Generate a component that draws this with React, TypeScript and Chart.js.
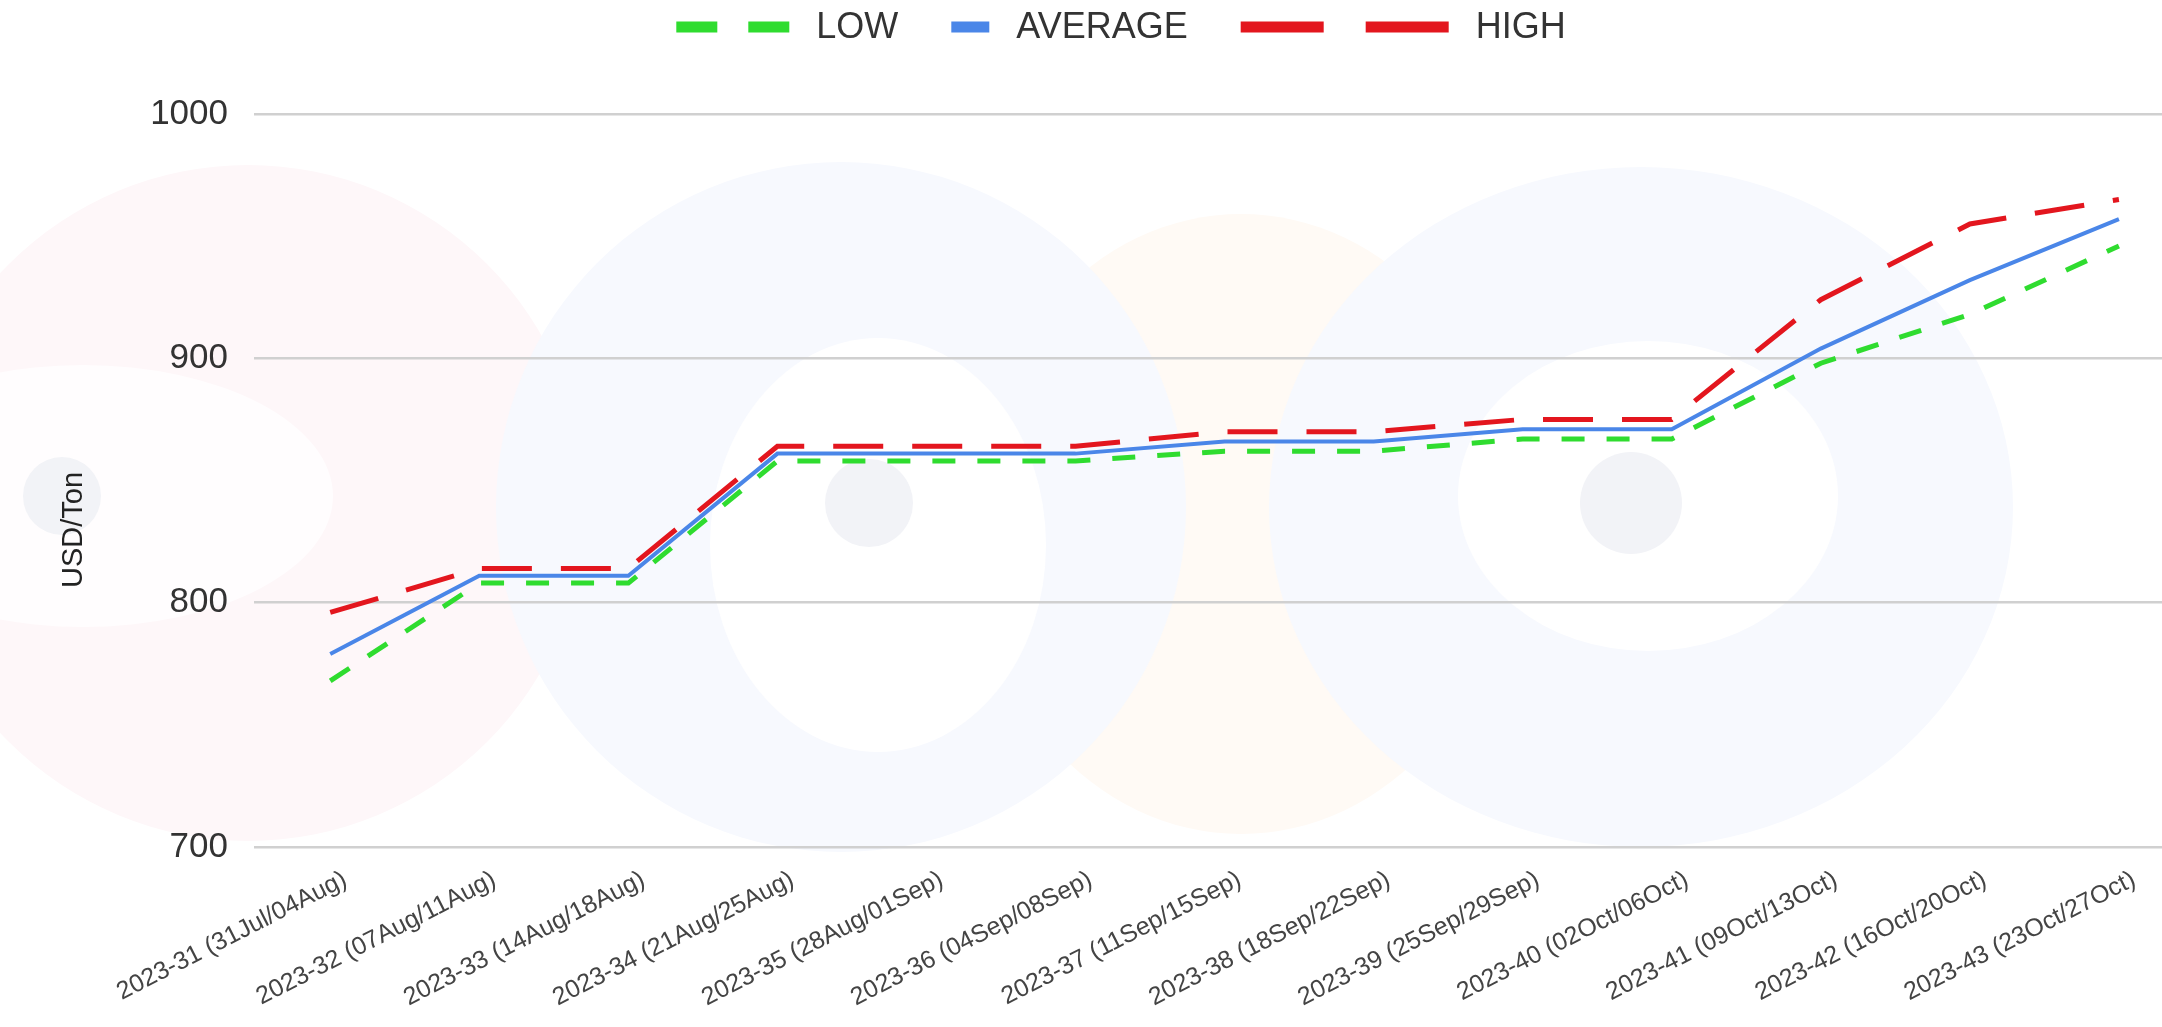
import { useEffect, useRef } from "react";
import { Chart, registerables } from "chart.js";

Chart.register(...registerables);

// ---- data ----
const weekLabels: string[] = [
  "2023-31 (31Jul/04Aug)",
  "2023-32 (07Aug/11Aug)",
  "2023-33 (14Aug/18Aug)",
  "2023-34 (21Aug/25Aug)",
  "2023-35 (28Aug/01Sep)",
  "2023-36 (04Sep/08Sep)",
  "2023-37 (11Sep/15Sep)",
  "2023-38 (18Sep/22Sep)",
  "2023-39 (25Sep/29Sep)",
  "2023-40 (02Oct/06Oct)",
  "2023-41 (09Oct/13Oct)",
  "2023-42 (16Oct/20Oct)",
  "2023-43 (23Oct/27Oct)",
];
const lowValues: number[] = [768, 808, 808, 858, 858, 858, 862, 862, 867, 867, 898, 918, 946];
const averageValues: number[] = [779, 811, 811, 861, 861, 861, 866, 866, 871, 871, 904, 932, 957];
const highValues: number[] = [796, 814, 814, 864, 864, 864, 870, 870, 875, 875, 924, 955, 965];
const yTickValues: number[] = [700, 800, 900, 1000];
const seriesNames: string[] = ["LOW", "AVERAGE", "HIGH"];
const yAxisTitle = "USD/Ton";

const LOW_COLOR = "#2fdc2f";
const AVG_COLOR = "#4a86e8";
const HIGH_COLOR = "#e3161e";
const FONT = '"Liberation Sans", Arial, Helvetica, sans-serif';

// legend symbols: dash patterns drawn in the custom legend
const legendSymbols = [
  { width: 113, dash: [41, 31] },
  { width: 38, dash: [] as number[] },
  { width: 208, dash: [83, 42] },
];

// faint watermark behind the plot
const watermark = {
  id: "watermark",
  beforeDraw(chart: any) {
    const ctx: CanvasRenderingContext2D = chart.ctx;
    ctx.save();
    const ell = (cx: number, cy: number, rx: number, ry: number, color: string) => {
      ctx.fillStyle = color;
      ctx.beginPath();
      ctx.ellipse(cx, cy, rx, ry, 0, 0, Math.PI * 2);
      ctx.fill();
    };
    ell(1241, 524, 270, 310, "#fffaf5");
    ell(248, 503, 338, 338, "#fef7f9");
    ell(83, 496, 250, 131, "#fffdfe");
    ell(841, 507, 345, 345, "#f7f9fe");
    ell(878, 545, 168, 207, "#ffffff");
    ell(1641, 507, 372, 340, "#f7f9fe");
    ell(1648, 496, 190, 155, "#ffffff");
    ell(62, 496, 39, 39, "#f2f3f7");
    ell(869, 503, 44, 44, "#f2f3f7");
    ell(1631, 503, 51, 51, "#f2f3f7");
    ctx.restore();
  },
};

const dashLegend = {
  id: "dashLegend",
  afterDraw(chart: any) {
    const ctx: CanvasRenderingContext2D = chart.ctx;
    const datasets = chart.data.datasets;
    const fontSize = 36;
    const symGap = 27;
    const itemGap = 53;
    const cy = 27;
    ctx.save();
    ctx.font = `${fontSize}px ${FONT}`;
    const items = legendSymbols.map((s, i) => ({
      ...s,
      text: datasets[i].label as string,
      color: datasets[i].borderColor as string,
      tw: ctx.measureText(datasets[i].label).width,
    }));
    const total = items.reduce((a, it) => a + it.width + symGap + it.tw, 0) + itemGap * (items.length - 1);
    let x = 1121 - total / 2;
    ctx.textBaseline = "middle";
    ctx.textAlign = "left";
    items.forEach((it) => {
      ctx.strokeStyle = it.color;
      ctx.lineWidth = 11;
      ctx.lineCap = "butt";
      ctx.setLineDash(it.dash);
      ctx.beginPath();
      ctx.moveTo(x, cy);
      ctx.lineTo(x + it.width, cy);
      ctx.stroke();
      ctx.setLineDash([]);
      x += it.width + symGap;
      ctx.fillStyle = "#333333";
      ctx.fillText(it.text, x, cy + 1);
      x += it.tw + itemGap;
    });
    ctx.restore();
  },
};

// y-axis title, drawn rotated to the left of the plot
const axisTitle = {
  id: "axisTitle",
  afterDraw(chart: any) {
    const ctx: CanvasRenderingContext2D = chart.ctx;
    ctx.save();
    ctx.translate(74, 530);
    ctx.rotate(-Math.PI / 2);
    ctx.font = `29px ${FONT}`;
    ctx.fillStyle = "#222222";
    ctx.textAlign = "center";
    ctx.textBaseline = "middle";
    ctx.fillText(yAxisTitle, 0, 0);
    ctx.restore();
  },
};

export default function App() {
  const canvasRef = useRef<HTMLCanvasElement | null>(null);

  useEffect(() => {
    const canvas = canvasRef.current;
    if (!canvas) return;
    const toPoints = (vals: number[]) => vals.map((y, i) => ({ x: i, y }));
    const chart = new Chart(canvas, {
      type: "line",
      data: {
        datasets: [
          {
            label: seriesNames[0],
            data: toPoints(lowValues),
            borderColor: LOW_COLOR,
            backgroundColor: LOW_COLOR,
            borderWidth: 5,
            borderDash: [23, 22],
            pointRadius: 0,
            tension: 0,
            order: 2,
          },
          {
            label: seriesNames[1],
            data: toPoints(averageValues),
            borderColor: AVG_COLOR,
            backgroundColor: AVG_COLOR,
            borderWidth: 4,
            pointRadius: 0,
            tension: 0,
            order: 1,
          },
          {
            label: seriesNames[2],
            data: toPoints(highValues),
            borderColor: HIGH_COLOR,
            backgroundColor: HIGH_COLOR,
            borderWidth: 5,
            borderDash: [50, 29],
            pointRadius: 0,
            tension: 0,
            order: 0,
          },
        ],
      },
      options: {
        responsive: false,
        animation: false,
        layout: { autoPadding: false, padding: { top: 114, left: 0, right: 0, bottom: 0 } },
        plugins: {
          legend: { display: false },
          tooltip: { enabled: false },
        },
        scales: {
          x: {
            type: "linear",
            min: -0.5115,
            max: 12.289,
            afterBuildTicks: (s: any) => {
              s.ticks = weekLabels.map((_, i) => ({ value: i }));
            },
            afterFit: (s: any) => {
              s.height = 180;
            },
            grid: { display: false, drawTicks: false },
            border: { display: false },
            ticks: {
              autoSkip: false,
              minRotation: 27,
              maxRotation: 27,
              padding: 18,
              labelOffset: 15,
              color: "#444444",
              font: { family: FONT, size: 25 },
              callback: (v: any) => weekLabels[v] ?? "",
            },
          },
          y: {
            min: 700,
            max: 1000,
            afterBuildTicks: (s: any) => {
              s.ticks = yTickValues.map((v) => ({ value: v }));
            },
            afterFit: (s: any) => {
              s.width = 254;
            },
            grid: { color: "#d0d0d0", lineWidth: 2.5, drawTicks: false },
            border: { display: false },
            ticks: {
              padding: 26,
              color: "#333333",
              font: { family: FONT, size: 35 },
              callback: (v: any) => String(v),
            },
          },
        },
      },
      plugins: [watermark, dashLegend, axisTitle],
    });
    return () => chart.destroy();
  }, []);

  return (
    <div style={{ position: "absolute", left: 0, top: 0, width: 2162, height: 1027, background: "#ffffff" }}>
      <canvas ref={canvasRef} width={2162} height={1027} style={{ display: "block" }} />
    </div>
  );
}
